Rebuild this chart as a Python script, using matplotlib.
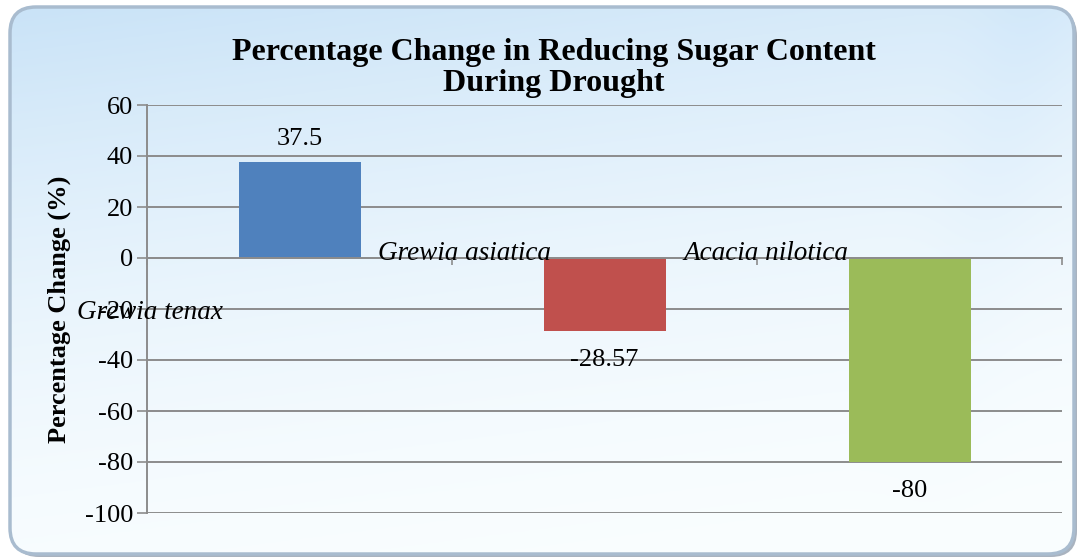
import numpy as np
import matplotlib
matplotlib.use("Agg")
import matplotlib.pyplot as plt
from matplotlib.patches import FancyBboxPatch

# --- Data ---
species = ["Grewia tenax", "Grewia asiatica", "Acacia nilotica"]
pct_change = [37.5, -28.57, -80]
value_labels = ["37.5", "-28.57", "-80"]
y_ticks = [60, 40, 20, 0, -20, -40, -60, -80, -100]

# --- Style ---
bar_colours = ["#4f81bd", "#c0504d", "#9bbb59"]
grid_colour = "#8c8c8c"
serif = ["Liberation Serif", "DejaVu Serif"]
plt.rcParams["font.family"] = serif
plt.rcParams["axes.unicode_minus"] = False

# category label placement (offset from category centre, y in data units)
cat_label_dx = [-0.49, -0.46, -0.47]
cat_label_y = [-21.5, 1.8, 1.8]

fig = plt.figure(figsize=(10.86, 5.6), dpi=100)
W, H = 1086, 560

# --- Background panel with gradient ---
bg = fig.add_axes([0, 0, 1, 1], zorder=0)
bg.set_xlim(0, W)
bg.set_ylim(0, H)
bg.axis("off")

shadow = FancyBboxPatch((13, 3), W - 22, H - 13,
                        boxstyle="round,pad=0,rounding_size=26",
                        fc="#8593a4", ec="none", alpha=0.7, zorder=-2)
bg.add_patch(shadow)
panel = FancyBboxPatch((10, 6), W - 22, H - 13,
                       boxstyle="round,pad=0,rounding_size=26",
                       fc="none", ec="#a9bccf", lw=2.5, zorder=3)
bg.add_patch(panel)

yy, xx = np.mgrid[0:1:200j, 0:1:400j]
t = np.clip(0.8 * yy + 0.2 * (1 - xx), 0, 1)  # yy=0 bottom
top_c = np.array([0.79, 0.89, 0.97])
bot_c = np.array([0.98, 0.995, 1.0])
grad = bot_c + (top_c - bot_c) * t[..., None] ** 1.8
# faint diagonal band on the right
band = np.exp(-((xx - 0.86 - 0.1 * yy) / 0.05) ** 2) * 0.04 * yy
grad = np.clip(grad - band[..., None] * np.array([0.6, 0.3, 0.0]), 0, 1)
im = bg.imshow(grad, extent=(10, W - 12, 6, H - 7), origin="lower",
               aspect="auto", zorder=1)
im.set_clip_path(panel)

# --- Chart axes ---
ax = fig.add_axes([147 / W, 47 / H, 915 / W, 408 / H], zorder=1)
ax.patch.set_alpha(0)

x = np.arange(len(species))
ax.bar(x, pct_change, width=0.4, color=bar_colours, zorder=3)

ax.set_xlim(-0.5, len(species) - 0.5)
ax.set_ylim(-100, 60)
ax.set_yticks(y_ticks)
ax.tick_params(axis="y", labelsize=19, length=7, width=1.2, color=grid_colour, pad=3)
ax.yaxis.grid(True, color=grid_colour, lw=1.4, zorder=0)

ax.set_xticks(np.arange(len(species) + 1) - 0.5)
ax.set_xticklabels([])
ax.tick_params(axis="x", length=5, width=1.2, color=grid_colour, direction="out")

for s in ["top", "right"]:
    ax.spines[s].set_visible(False)
ax.spines["bottom"].set_position(("data", 0))
ax.spines["bottom"].set_color(grid_colour)
ax.spines["bottom"].set_linewidth(1.4)
ax.spines["left"].set_color(grid_colour)
ax.spines["left"].set_linewidth(1.4)
ax.spines["bottom"].set_zorder(4)

# value labels
for i, v in enumerate(pct_change):
    ax.annotate(value_labels[i], (x[i], v), xytext=(0, 17 if v > 0 else -21),
                textcoords="offset points", ha="center", va="center",
                fontsize=19, zorder=5)

# category labels (as they sit in the original)
for i, name in enumerate(species):
    ax.text(x[i] + cat_label_dx[i], cat_label_y[i], name, ha="center",
            va="center", fontsize=19.5, style="italic", zorder=5, clip_on=False)

ax.set_ylabel("Percentage Change (%)", fontsize=19, fontweight="bold", labelpad=10)

fig.text(554 / W, 1 - 68 / H, "Percentage Change in Reducing Sugar Content\nDuring Drought",
         ha="center", va="center", fontsize=23, fontweight="bold", linespacing=1.05)

fig.savefig("out.png", dpi=100)
